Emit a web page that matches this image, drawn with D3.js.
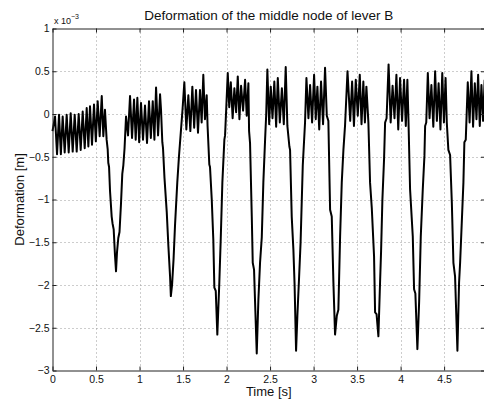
<!DOCTYPE html>
<html>
<head>
<meta charset="utf-8">
<script src="https://cdn.jsdelivr.net/npm/d3@7"></script>
<style>
	body { margin: 0; background: #fff; }
	svg { display: block; font-family: "Liberation Sans", Arial, sans-serif; }
	.grid line { stroke: #9a9a9a; stroke-width: 1; stroke-dasharray: 1,3; }
	.tick text { font-size: 10.5px; fill: #111; }
</style>
</head>
<body>
<div id="chart"></div>
<script>
// time [s]
var timeValues = [
	0.000, 0.029, 0.052, 0.075, 0.096, 0.117, 0.140, 0.163, 0.186, 0.209, 0.232, 0.255, 0.278, 0.301, 0.324, 0.347,
	0.370, 0.393, 0.412, 0.431, 0.454, 0.477, 0.498, 0.519, 0.542, 0.566, 0.584, 0.603, 0.622, 0.634, 0.641, 0.650,
	0.661, 0.680, 0.690, 0.703, 0.718, 0.730, 0.741, 0.756, 0.770, 0.787, 0.802, 0.814, 0.828, 0.845,
	0.868, 0.891, 0.914, 0.937, 0.956, 0.975, 0.996, 1.017, 1.040, 1.063, 1.086, 1.109, 1.130, 1.152, 1.171, 1.190, 1.213, 1.236,
	1.247, 1.262, 1.270, 1.287, 1.313, 1.332, 1.351, 1.360, 1.374, 1.391, 1.408, 1.434, 1.453, 1.477, 1.494,
	1.515, 1.538, 1.561, 1.584, 1.607, 1.628, 1.649, 1.672, 1.695, 1.714, 1.733, 1.752, 1.772,
	1.782, 1.802, 1.810, 1.830, 1.848, 1.860, 1.876, 1.894, 1.917, 1.933, 1.952, 1.975, 1.983, 1.998, 2.014,
	2.031, 2.049, 2.070, 2.090, 2.110, 2.129, 2.148, 2.167, 2.190, 2.213, 2.232, 2.251,
	2.259, 2.270, 2.290, 2.301, 2.316, 2.331, 2.347, 2.366, 2.385, 2.405, 2.423, 2.443, 2.456, 2.469,
	2.490, 2.508, 2.528, 2.549, 2.570, 2.589, 2.612, 2.636, 2.658, 2.680,
	2.699, 2.722, 2.730, 2.749, 2.768, 2.782, 2.799, 2.814, 2.834, 2.851, 2.876, 2.902, 2.918,
	2.941, 2.960, 2.983, 3.006, 3.025, 3.044, 3.065, 3.086, 3.109, 3.132,
	3.152, 3.170, 3.190, 3.209, 3.228, 3.247, 3.267, 3.285, 3.305, 3.324, 3.343, 3.362, 3.390,
	3.421, 3.443, 3.464, 3.485, 3.508, 3.531, 3.551, 3.572, 3.590, 3.607,
	3.630, 3.649, 3.669, 3.695, 3.707, 3.724, 3.745, 3.764, 3.776, 3.791, 3.810, 3.822, 3.839, 3.862,
	3.886, 3.908, 3.930, 3.952, 3.973, 3.994, 4.017, 4.040, 4.060, 4.078,
	4.090, 4.109, 4.140, 4.155, 4.170, 4.193, 4.213, 4.232, 4.255, 4.274, 4.282, 4.295, 4.313,
	4.333, 4.354, 4.376, 4.397, 4.417, 4.437, 4.458, 4.479, 4.498, 4.517,
	4.531, 4.549, 4.569, 4.589, 4.607, 4.626, 4.653, 4.672, 4.684, 4.703, 4.722, 4.733, 4.749, 4.772,
	4.793, 4.814, 4.833, 4.853, 4.872, 4.891, 4.910, 4.929, 4.948, 4.966
];

// deformation [m] x 10^-3
var deformationValues = [
	-0.20, -0.03, -0.47, -0.01, -0.47, -0.03, -0.45, -0.01, -0.45, 0.01, -0.44, -0.01, -0.44, 0.00, -0.42, 0.03,
	-0.40, 0.07, -0.38, 0.09, -0.36, 0.11, -0.32, 0.15, -0.26, 0.21, -0.26, 0.05, -0.30, -0.41, -0.57, -0.62,
	-0.90, -1.20, -1.28, -1.35, -1.65, -1.84, -1.62, -1.45, -1.38, -1.05, -0.70, -0.60, -0.40, -0.03,
	-0.25, 0.21, -0.28, 0.17, -0.30, 0.19, -0.33, 0.13, -0.30, 0.10, -0.34, 0.15, -0.28, 0.15, -0.30, 0.31, -0.25, 0.23,
	0.05, -0.33, -0.40, -0.75, -1.15, -1.55, -1.90, -2.13, -2.00, -1.70, -1.30, -0.80, -0.50, -0.18, 0.05,
	0.37, -0.18, 0.22, -0.20, 0.32, -0.16, 0.28, -0.22, 0.28, -0.10, 0.46, -0.06, 0.22,
	-0.14, -0.59, -0.62, -1.00, -1.47, -2.03, -2.07, -2.58, -1.97, -1.47, -0.80, -0.30, -0.25, 0.10, 0.48,
	0.08, 0.37, -0.05, 0.30, 0.02, 0.44, -0.06, 0.33, 0.04, 0.40, -0.02, 0.36,
	-0.20, -0.34, -1.20, -1.74, -1.82, -2.30, -2.80, -2.17, -1.74, -1.44, -0.80, -0.30, 0.00, 0.52,
	-0.12, 0.32, -0.05, 0.38, -0.15, 0.42, -0.10, 0.30, -0.12, 0.55,
	-0.14, -0.38, -0.42, -1.20, -1.58, -2.00, -2.77, -2.36, -1.90, -1.50, -0.60, -0.10, 0.42,
	-0.05, 0.34, -0.10, 0.46, -0.06, 0.32, -0.18, 0.38, -0.12, 0.54,
	-0.02, -0.08, -1.12, -1.20, -1.97, -2.58, -2.36, -2.29, -1.43, -0.80, -0.42, -0.13, 0.50,
	-0.08, 0.38, -0.14, 0.40, -0.02, 0.46, -0.12, 0.38, -0.10, 0.32,
	-0.10, -0.80, -1.10, -1.66, -2.32, -2.34, -2.60, -1.97, -1.60, -1.00, -0.53, -0.10, -0.05, 0.58,
	-0.10, 0.33, -0.05, 0.46, -0.18, 0.42, -0.08, 0.40, -0.14, 0.40,
	-0.05, -0.88, -1.43, -2.05, -2.10, -2.75, -2.20, -1.43, -0.88, -0.49, -0.14, -0.10, 0.48,
	-0.05, 0.34, -0.15, 0.50, -0.08, 0.36, -0.18, 0.48, -0.10, 0.42,
	-0.10, -0.42, -0.48, -1.04, -1.74, -1.90, -2.77, -1.97, -1.74, -1.27, -0.80, -0.33, -0.30, 0.37,
	-0.10, 0.50, -0.15, 0.36, -0.06, 0.46, -0.14, 0.34, -0.08, 0.40
];

var xTicks = [0, 0.5, 1, 1.5, 2, 2.5, 3, 3.5, 4, 4.5];
var yTicks = [1, 0.5, 0, -0.5, -1, -1.5, -2, -2.5, -3];

var width = 484, height = 401;
var plotLeft = 52.5, plotRight = 485, plotTop = 28.5, plotBottom = 370.5;

var x = d3.scaleLinear().domain([0, 4.97]).range([plotLeft, plotRight]);
var y = d3.scaleLinear().domain([-3, 1]).range([plotBottom, plotTop]);

function fmt(d) {
	return d < 0 ? '\u2212' + Math.abs(d) : String(d);
}

var svg = d3.select('#chart').append('svg')
	.attr('width', width)
	.attr('height', height);

// grid
var grid = svg.append('g').attr('class', 'grid');
grid.selectAll('line.gx')
	.data(xTicks.filter(function(d) { return d > 0; }))
	.enter().append('line')
		.attr('class', 'gx')
		.attr('x1', function(d) { return Math.round(x(d)) + 0.5; })
		.attr('x2', function(d) { return Math.round(x(d)) + 0.5; })
		.attr('y1', plotTop).attr('y2', plotBottom);
grid.selectAll('line.gy')
	.data(yTicks.filter(function(d) { return d > -3 && d < 1; }))
	.enter().append('line')
		.attr('class', 'gy')
		.attr('x1', plotLeft).attr('x2', plotRight)
		.attr('y1', function(d) { return Math.round(y(d)) + 0.5; })
		.attr('y2', function(d) { return Math.round(y(d)) + 0.5; });

// data line
var points = timeValues.map(function(t, i) { return [t, deformationValues[i]]; });
var line = d3.line()
	.x(function(d) { return x(d[0]); })
	.y(function(d) { return y(d[1]); });

svg.append('path')
	.datum(points)
	.attr('fill', 'none')
	.attr('stroke', '#000')
	.attr('stroke-width', 2)
	.attr('stroke-linejoin', 'round')
	.attr('d', line);

// axes, ticks inward like matlab
var xAxis = d3.axisBottom(x).tickValues(xTicks).tickFormat(fmt).tickSizeInner(-4).tickSizeOuter(0).tickPadding(5);
var yAxis = d3.axisLeft(y).tickValues(yTicks).tickFormat(fmt).tickSizeInner(-4).tickSizeOuter(0).tickPadding(3);
var xTop = d3.axisTop(x).tickValues(xTicks).tickFormat('').tickSizeInner(-4).tickSizeOuter(0);
var yRight = d3.axisRight(y).tickValues(yTicks).tickFormat('').tickSizeInner(-4).tickSizeOuter(0);

svg.append('g').attr('transform', 'translate(0,' + plotBottom + ')').call(xAxis);
svg.append('g').attr('transform', 'translate(' + plotLeft + ',0)').call(yAxis);
svg.append('g').attr('transform', 'translate(0,' + plotTop + ')').call(xTop);
svg.append('g').attr('transform', 'translate(' + plotRight + ',0)').call(yRight);

svg.selectAll('.domain').attr('stroke', '#222');
svg.selectAll('.tick line').attr('stroke', '#222');

// exponent label
var ex = svg.append('text')
	.attr('x', 54).attr('y', 24)
	.attr('font-size', 9)
	.attr('fill', '#111')
	.text('x 10');
ex.append('tspan').attr('dy', -5).attr('font-size', 7).text('\u22123');

// title and labels
svg.append('text')
	.attr('x', (plotLeft + plotRight) / 2).attr('y', 20)
	.attr('text-anchor', 'middle')
	.attr('font-size', 13.5)
	.attr('fill', '#111')
	.text('Deformation of the middle node of lever B');

svg.append('text')
	.attr('x', (plotLeft + plotRight) / 2).attr('y', 396)
	.attr('text-anchor', 'middle')
	.attr('font-size', 13)
	.attr('fill', '#111')
	.text('Time [s]');

svg.append('text')
	.attr('transform', 'translate(24,' + ((plotTop + plotBottom) / 2) + ') rotate(-90)')
	.attr('text-anchor', 'middle')
	.attr('font-size', 13)
	.attr('fill', '#111')
	.text('Deformation [m]');
</script>
</body>
</html>
